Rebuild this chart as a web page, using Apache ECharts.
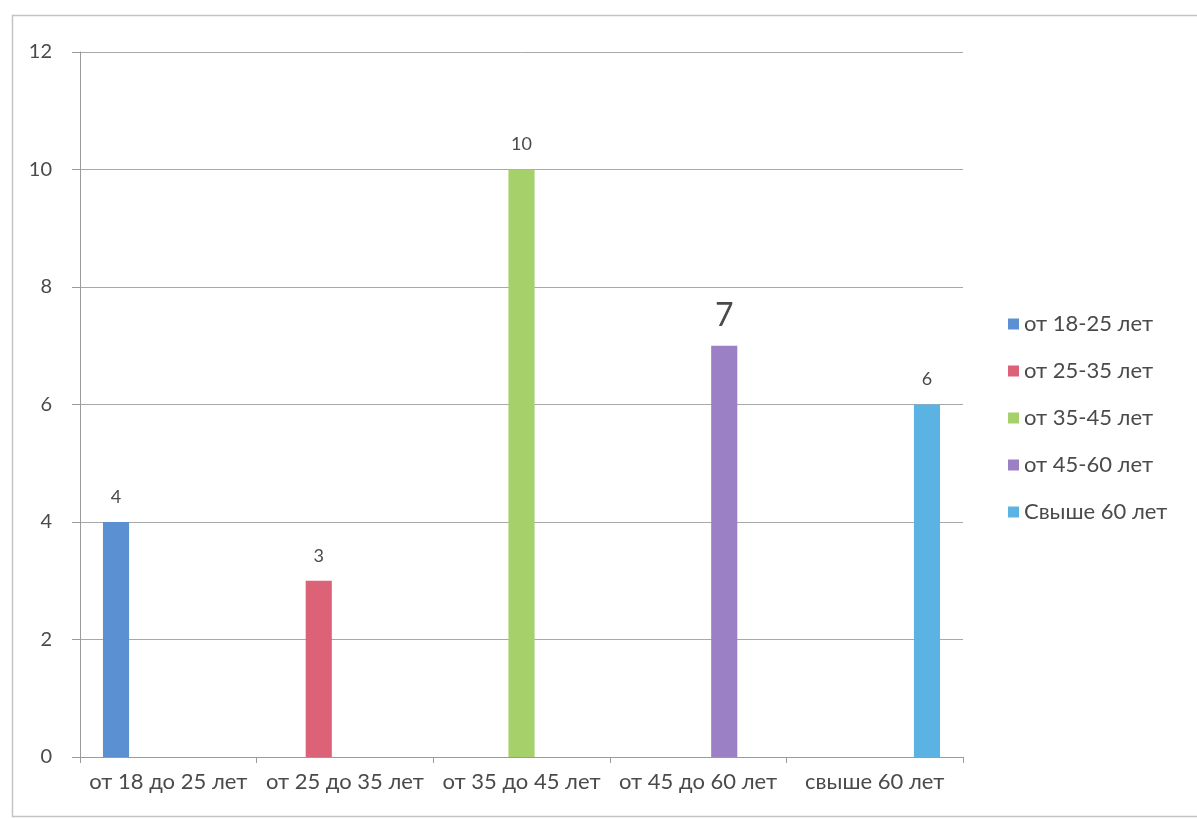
<!DOCTYPE html>
<html>
<head>
<meta charset="utf-8">
<script src="https://cdn.jsdelivr.net/npm/echarts@6/dist/echarts.min.js"></script>
<style>
  html, body { margin: 0; padding: 0; background: #ffffff; }
  #chart { width: 1197px; height: 819px; }
</style>
</head>
<body>
<div id="chart"></div>
<script>
// Age groups on the category axis
const categories = ['от 18 до 25 лет', 'от 25 до 35 лет', 'от 35 до 45 лет', 'от 45 до 60 лет', 'свыше 60 лет'];
// One series per age group (legend names)
const seriesNames = ['от 18-25 лет', 'от 25-35 лет', 'от 35-45 лет', 'от 45-60 лет', 'Свыше 60 лет'];
// Count for each age group; each series has a value only in its own category
const counts = [4, 3, 10, 7, 6];
const colors = ['#5b90d3', '#dc6377', '#a5d06a', '#9c80c6', '#5bb3e3'];
const yTicks = { min: 0, max: 12, interval: 2 };

const textColor = '#4a4a4a';
const font = 'Lato, "Open Sans", sans-serif';

const series = seriesNames.map((name, i) => ({
  name: name,
  type: 'bar',
  barGap: '0%',
  barCategoryGap: '26%',
  itemStyle: { color: colors[i] },
  label: {
    show: true,
    position: 'top',
    distance: i === 3 ? 14 : 16,
    color: textColor,
    fontFamily: font,
    fontSize: i === 3 ? 32 : 18
  },
  data: categories.map((c, j) => (j === i ? counts[i] : null))
}));

const chart = echarts.init(document.getElementById('chart'), null, { renderer: 'canvas' });
chart.setOption({
  backgroundColor: '#ffffff',
  animation: false,
  color: colors,
  grid: { left: 80, right: 234, top: 52, bottom: 62, containLabel: false },
  legend: {
    orient: 'vertical',
    left: 1003,
    top: 308,
    itemWidth: 11,
    itemHeight: 11,
    itemGap: 25,
    icon: 'rect',
    textStyle: { color: textColor, fontFamily: font, fontSize: 22 },
    data: seriesNames
  },
  xAxis: {
    type: 'category',
    data: categories,
    axisLine: { show: true, lineStyle: { color: '#9a9a9a', width: 1 } },
    axisTick: { show: true, length: 6, lineStyle: { color: '#9a9a9a' } },
    axisLabel: { color: textColor, fontFamily: font, fontSize: 22, margin: 14, interval: 0 }
  },
  yAxis: {
    type: 'value',
    min: yTicks.min,
    max: yTicks.max,
    interval: yTicks.interval,
    axisLine: { show: true, lineStyle: { color: '#9a9a9a', width: 1 } },
    axisTick: { show: true, length: 8, lineStyle: { color: '#9a9a9a' } },
    splitLine: { show: true, lineStyle: { color: '#a8a8a8', width: 1 } },
    axisLabel: { color: textColor, fontFamily: font, fontSize: 20, margin: 28 }
  },
  graphic: [
    {
      type: 'rect',
      shape: { x: 12.5, y: 15.5, width: 1200, height: 801 },
      style: { fill: 'none', stroke: '#c4c4c4', lineWidth: 1.5 },
      silent: true,
      z: -1
    }
  ],
  series: series
});
</script>
</body>
</html>
